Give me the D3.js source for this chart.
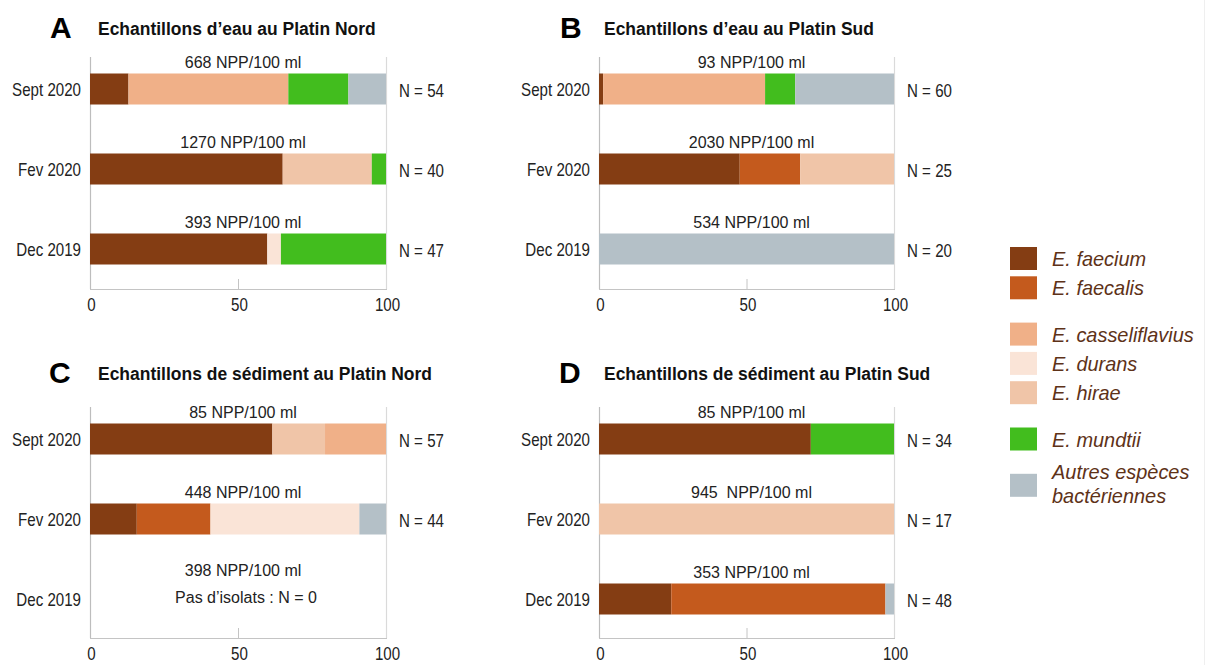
<!DOCTYPE html>
<html><head><meta charset="utf-8">
<script src="https://cdn.jsdelivr.net/npm/d3@7"></script>
<style>
html,body{margin:0;padding:0;background:#fff;}
svg{display:block;}
text{font-family:"Liberation Sans",Arial,Helvetica,sans-serif;white-space:pre;}
</style>
</head><body>
<svg id="chart" width="1208" height="665"></svg>
<script>
// ---------- DATA ----------
const rows = ["Sept 2020", "Fev 2020", "Dec 2019"];
const speciesKeys = ["faecium", "faecalis", "casseliflavius", "durans", "hirae", "mundtii", "autres"];
const speciesLabels = [["E. faecium"], ["E. faecalis"], ["E. casseliflavius"], ["E. durans"], ["E. hirae"], ["E. mundtii"], ["Autres espèces", "bactériennes"]];
const speciesColors = ["#843d13", "#c45a1d", "#f0b088", "#fae4d7", "#f0c5a8", "#42bd1e", "#b4c0c7"];
const xTicks = [0, 50, 100];

// segments per row: [species, percent], in drawing order
const segA = [
  [["faecium", 13.0], ["casseliflavius", 54.0], ["mundtii", 20.3], ["autres", 12.7]],
  [["faecium", 65.1], ["hirae", 30.1], ["mundtii", 4.8]],
  [["faecium", 59.9], ["durans", 4.6], ["mundtii", 35.5]]
];
const segB = [
  [["faecium", 1.4], ["casseliflavius", 54.9], ["mundtii", 10.2], ["autres", 33.5]],
  [["faecium", 47.7], ["faecalis", 20.5], ["hirae", 31.8]],
  [["autres", 100]]
];
const segC = [
  [["faecium", 61.6], ["hirae", 17.8], ["casseliflavius", 20.6]],
  [["faecium", 15.8], ["faecalis", 24.9], ["durans", 50.3], ["autres", 9.0]],
  []
];
const segD = [
  [["faecium", 71.8], ["mundtii", 28.2]],
  [["hirae", 100]],
  [["faecium", 24.5], ["faecalis", 72.6], ["autres", 2.9]]
];
const nppA = ["668 NPP/100 ml", "1270 NPP/100 ml", "393 NPP/100 ml"];
const nppB = ["93 NPP/100 ml", "2030 NPP/100 ml", "534 NPP/100 ml"];
const nppC = ["85 NPP/100 ml", "448 NPP/100 ml", "398 NPP/100 ml"];
const nppD = ["85 NPP/100 ml", "945  NPP/100 ml", "353 NPP/100 ml"];
const nA = [54, 40, 47];
const nB = [60, 25, 20];
const nC = [57, 44, null];
const nD = [34, 17, 48];
const noIsolateText = "Pas d\u2019isolats : N = 0";

// ---------- LAYOUT ----------
const svg = d3.select("#chart");
const color = d3.scaleOrdinal().domain(speciesKeys).range(speciesColors);
const TXT = "#222";

function txt(sel, x, y, s, o) {
  return sel.append("text")
    .attr("transform", `translate(${x},${y}) scale(${o.sx || 1},1)`)
    .attr("text-anchor", o.anchor || "start")
    .attr("font-size", o.size)
    .attr("font-weight", o.weight || "normal")
    .attr("font-style", o.style || "normal")
    .attr("fill", o.fill || TXT)
    .text(s);
}

const panels = [
  {letter: "A", title: "Echantillons d\u2019eau au Platin Nord", x0: 90, x1: 386, top: 57, bottom: 289, lx: 50, ly: 38, tx: 98, ty: 35, segs: segA, npp: nppA, n: nA},
  {letter: "B", title: "Echantillons d\u2019eau au Platin Sud", x0: 599, x1: 894, top: 57, bottom: 289, lx: 560, ly: 38, tx: 604, ty: 35, segs: segB, npp: nppB, n: nB},
  {letter: "C", title: "Echantillons de sédiment au Platin Nord", x0: 90, x1: 386, top: 407, bottom: 638, lx: 49, ly: 383, tx: 98, ty: 380, segs: segC, npp: nppC, n: nC},
  {letter: "D", title: "Echantillons de sédiment au Platin Sud", x0: 599, x1: 894, top: 407, bottom: 638, lx: 559, ly: 383, tx: 604, ty: 380, segs: segD, npp: nppD, n: nD}
];

const barH = 31;

panels.forEach(p => {
  const g = svg.append("g");
  const x = d3.scaleLinear().domain([0, 100]).range([p.x0, p.x1]);
  const y = d3.scalePoint().domain(rows).range([p.top + 32, p.top + 192]);

  // axis frame
  g.append("line").attr("x1", p.x0 + 0.5).attr("x2", p.x0 + 0.5).attr("y1", p.top).attr("y2", p.bottom)
    .attr("stroke", "#bdbdbd").attr("stroke-width", 1.2);
  g.append("line").attr("x1", p.x1 + 0.5).attr("x2", p.x1 + 0.5).attr("y1", p.top).attr("y2", p.bottom)
    .attr("stroke", "#dadada").attr("stroke-width", 1.2);
  g.append("line").attr("x1", p.x0).attr("x2", p.x1 + 1).attr("y1", p.bottom + 0.5).attr("y2", p.bottom + 0.5)
    .attr("stroke", "#c4c4c4").attr("stroke-width", 1.2);
  g.append("line").attr("x1", x(50) + 0.5).attr("x2", x(50) + 0.5).attr("y1", p.bottom - 10).attr("y2", p.bottom)
    .attr("stroke", "#c4c4c4").attr("stroke-width", 1);

  xTicks.forEach(t => txt(g, x(t) + 1.5, p.bottom + 22, String(t), {size: 18, sx: 0.84, anchor: "middle"}));

  // letter & title
  txt(g, p.lx, p.ly, p.letter, {size: 30, weight: "bold", fill: "#000"});
  txt(g, p.tx, p.ty, p.title, {size: 19, weight: "bold", sx: 0.92, fill: "#111"});

  rows.forEach((r, i) => {
    const cy = y(r);
    txt(g, p.x0 - 9, cy + 7, r, {size: 18, sx: 0.84, anchor: "end"});
    const segs = p.segs[i];
    let acc = 0;
    segs.forEach(([sp, v]) => {
      g.append("rect")
        .attr("x", x(acc)).attr("y", cy - barH / 2)
        .attr("width", x(acc + v) - x(acc)).attr("height", barH)
        .attr("fill", color(sp));
      acc += v;
    });
    const nx = (p.x0 + p.x1) / 2 + 5;
    if (segs.length) {
      txt(g, nx, cy - barH / 2 - 6, p.npp[i], {size: 16, anchor: "middle"});
    } else {
      txt(g, nx, cy - 23, p.npp[i], {size: 16, anchor: "middle"});
      txt(g, nx + 3, cy + 4, noIsolateText, {size: 16, anchor: "middle"});
    }
    if (p.n[i] !== null) {
      txt(g, p.x1 + 13, cy + 7.5, "N = " + p.n[i], {size: 18, sx: 0.84});
    }
  });
});

// ---------- LEGEND ----------
const legendGroup = [0, 0, 1, 1, 1, 2, 3];
const lg = svg.append("g");
speciesKeys.forEach((k, i) => {
  const top = 247 + i * 29.3 + legendGroup[i] * 17;
  lg.append("rect").attr("x", 1010).attr("y", top).attr("width", 27).attr("height", 23).attr("fill", color(k));
  const lines = speciesLabels[i];
  if (lines.length === 1) {
    txt(lg, 1052, top + 19, lines[0], {size: 21, style: "italic", sx: 0.95, fill: "#5e3218"});
  } else {
    txt(lg, 1052, top + 5, lines[0], {size: 21, style: "italic", sx: 0.95, fill: "#5e3218"});
    txt(lg, 1052, top + 29, lines[1], {size: 21, style: "italic", sx: 0.95, fill: "#5e3218"});
  }
});

// faint right border of the figure
svg.append("line").attr("x1", 1204.5).attr("x2", 1204.5).attr("y1", 0).attr("y2", 665).attr("stroke", "#efefef");
</script>
</body></html>
